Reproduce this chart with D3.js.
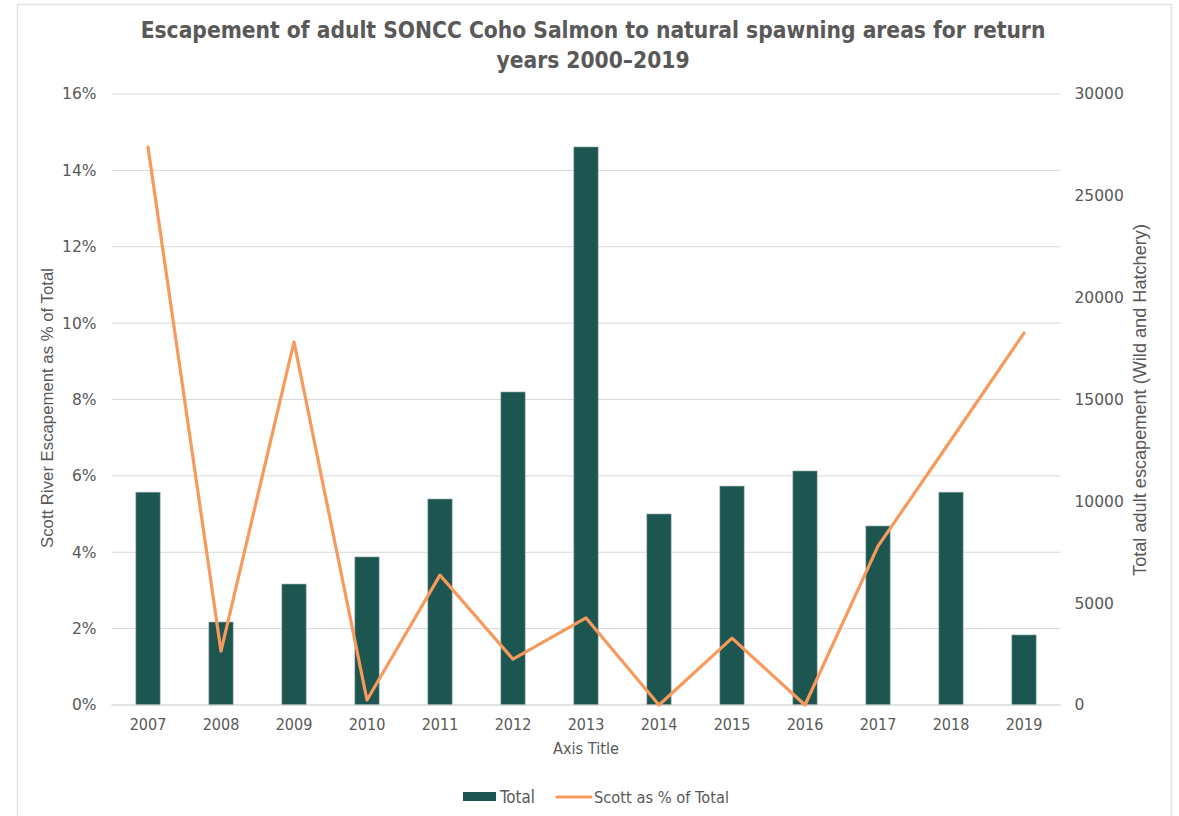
<!DOCTYPE html>
<html><head><meta charset="utf-8">
<script src="https://cdn.jsdelivr.net/npm/d3@7"></script>
<style>
html,body{margin:0;padding:0;background:#fff;}
svg{display:block;}
</style></head>
<body>
<svg id="chart" width="1179" height="816"></svg>
<script>
const years = ["2007","2008","2009","2010","2011","2012","2013","2014","2015","2016","2017","2018","2019"];
const totalEscapement = [10450, 4075, 5940, 7270, 10115, 15370, 27400, 9380, 10750, 11490, 8790, 10450, 3440];
const scottPct = [0.1461, 0.0141, 0.0951, 0.0013, 0.0340, 0.0120, 0.0228, 0.0000, 0.0175, 0.0000, 0.0416, 0.0694, 0.0974];
const leftTicks = [0, 0.02, 0.04, 0.06, 0.08, 0.10, 0.12, 0.14, 0.16];
const rightTicks = [0, 5000, 10000, 15000, 20000, 25000, 30000];
const titleLines = ["Escapement of adult SONCC Coho Salmon to natural spawning areas for return", "years 2000–2019"];

const svg = d3.select("#chart");
const m = {left: 111.5, right: 1060.5, top: 94, bottom: 705};
const grey = "#595959";
const barColor = "#1D5550";
const lineColor = "#F89A5C";
const tickFont = "DejaVu Sans, Verdana, sans-serif";
const narrowFont = "'DejaVu Sans Condensed', 'Liberation Sans Narrow', Arial, sans-serif";
const sansFont = "'Liberation Sans', Arial, sans-serif";

// fit a text element's font size so its rendered width matches a target width
function fitWidth(sel, target) {
  sel.each(function() {
    const fs = parseFloat(this.style.fontSize);
    const w = this.getComputedTextLength();
    if (w > 0) this.style.fontSize = (fs * target / w).toFixed(2) + "px";
  });
}

// outer frame
svg.append("rect").attr("x", 17.5).attr("y", 4.5).attr("width", 1154).attr("height", 830)
  .attr("fill", "none").attr("stroke", "#e3e3e3").attr("stroke-width", 1.5);

const x = d3.scaleBand().domain(years).range([m.left, m.right]).paddingInner(0.667).paddingOuter(0.3335);
const yL = d3.scaleLinear().domain([0, 0.16]).range([m.bottom, m.top]);
const yR = d3.scaleLinear().domain([0, 30000]).range([m.bottom, m.top]);

// gridlines
svg.append("g").selectAll("line").data(leftTicks).join("line")
  .attr("x1", m.left).attr("x2", m.right)
  .attr("y1", d => yL(d)).attr("y2", d => yL(d))
  .attr("stroke", "#d9d9d9").attr("stroke-width", 1);

// left axis
const gL = svg.append("g").attr("transform", `translate(${m.left},0)`)
  .call(d3.axisLeft(yL).tickValues(leftTicks).tickFormat(d3.format(".0%")).tickSize(0).tickPadding(15));
gL.select(".domain").remove();
gL.selectAll("text").attr("fill", grey).style("font-family", tickFont).style("font-size", "15.5px");

// right axis
const gR = svg.append("g").attr("transform", `translate(${m.right},0)`)
  .call(d3.axisRight(yR).tickValues(rightTicks).tickFormat(d3.format("d")).tickSize(0).tickPadding(14));
gR.select(".domain").remove();
gR.selectAll("text").attr("fill", grey).style("font-family", tickFont).style("font-size", "15.5px");

// bars
svg.append("g").selectAll("rect").data(years).join("rect")
  .attr("x", d => x(d)).attr("width", x.bandwidth())
  .attr("y", (d, i) => yR(totalEscapement[i]))
  .attr("height", (d, i) => yR(0) - yR(totalEscapement[i]))
  .attr("fill", barColor).attr("stroke", "#9fb5b2").attr("stroke-width", 0.6);

// baseline
svg.append("line").attr("x1", m.left).attr("x2", m.right).attr("y1", m.bottom).attr("y2", m.bottom)
  .attr("stroke", "#d9d9d9").attr("stroke-width", 1);

// line
const line = d3.line().x((d, i) => x(years[i]) + x.bandwidth() / 2).y(d => yL(d));
svg.append("path").datum(scottPct).attr("d", line)
  .attr("fill", "none").attr("stroke", lineColor).attr("stroke-width", 3.2)
  .attr("stroke-linejoin", "round").attr("stroke-linecap", "round");

// x axis
const gX = svg.append("g").attr("transform", `translate(0,${m.bottom})`)
  .call(d3.axisBottom(x).tickSize(0).tickPadding(14));
gX.select(".domain").remove();
gX.selectAll("text").attr("fill", grey).style("font-family", narrowFont).style("font-size", "16px");

// title
const titleSel = svg.append("g").selectAll("text").data(titleLines).join("text")
  .attr("x", 593).attr("y", (d, i) => 38 + i * 30)
  .attr("text-anchor", "middle").attr("fill", grey)
  .style("font-family", narrowFont).style("font-weight", "bold").style("font-size", "25px")
  .text(d => d);
const t0 = titleSel.filter((d, i) => i === 0);
const fs0 = parseFloat(t0.node().style.fontSize), w0 = t0.node().getComputedTextLength();
const titleSize = (fs0 * 905 / w0).toFixed(2) + "px";
titleSel.style("font-size", titleSize);

// axis titles
const xt = svg.append("text").attr("x", 586).attr("y", 754).attr("text-anchor", "middle").attr("fill", grey)
  .style("font-family", narrowFont).style("font-size", "17px").text("Axis Title");
fitWidth(xt, 66);

const lt = svg.append("text").attr("transform", "translate(53,408) rotate(-90)").attr("text-anchor", "middle").attr("fill", grey)
  .style("font-family", sansFont).style("font-size", "16px").text("Scott River Escapement as % of Total");
fitWidth(lt, 280);

const rt = svg.append("text").attr("transform", "translate(1146,400) rotate(-90)").attr("text-anchor", "middle").attr("fill", grey)
  .style("font-family", sansFont).style("font-size", "16px").text("Total adult escapement (Wild and Hatchery)");
fitWidth(rt, 352);

// legend
const lg = svg.append("g");
lg.append("rect").attr("x", 463).attr("y", 792).attr("width", 33).attr("height", 9).attr("fill", barColor);
const l1 = lg.append("text").attr("x", 500).attr("y", 803).attr("fill", grey)
  .style("font-family", narrowFont).style("font-size", "16px").text("Total");
fitWidth(l1, 35);
lg.append("line").attr("x1", 557).attr("x2", 591).attr("y1", 797).attr("y2", 797)
  .attr("stroke", lineColor).attr("stroke-width", 3.2).attr("stroke-linecap", "round");
const l2 = lg.append("text").attr("x", 594).attr("y", 803).attr("fill", grey)
  .style("font-family", narrowFont).style("font-size", "16px").text("Scott as % of Total");
fitWidth(l2, 135);
</script>
</body></html>
